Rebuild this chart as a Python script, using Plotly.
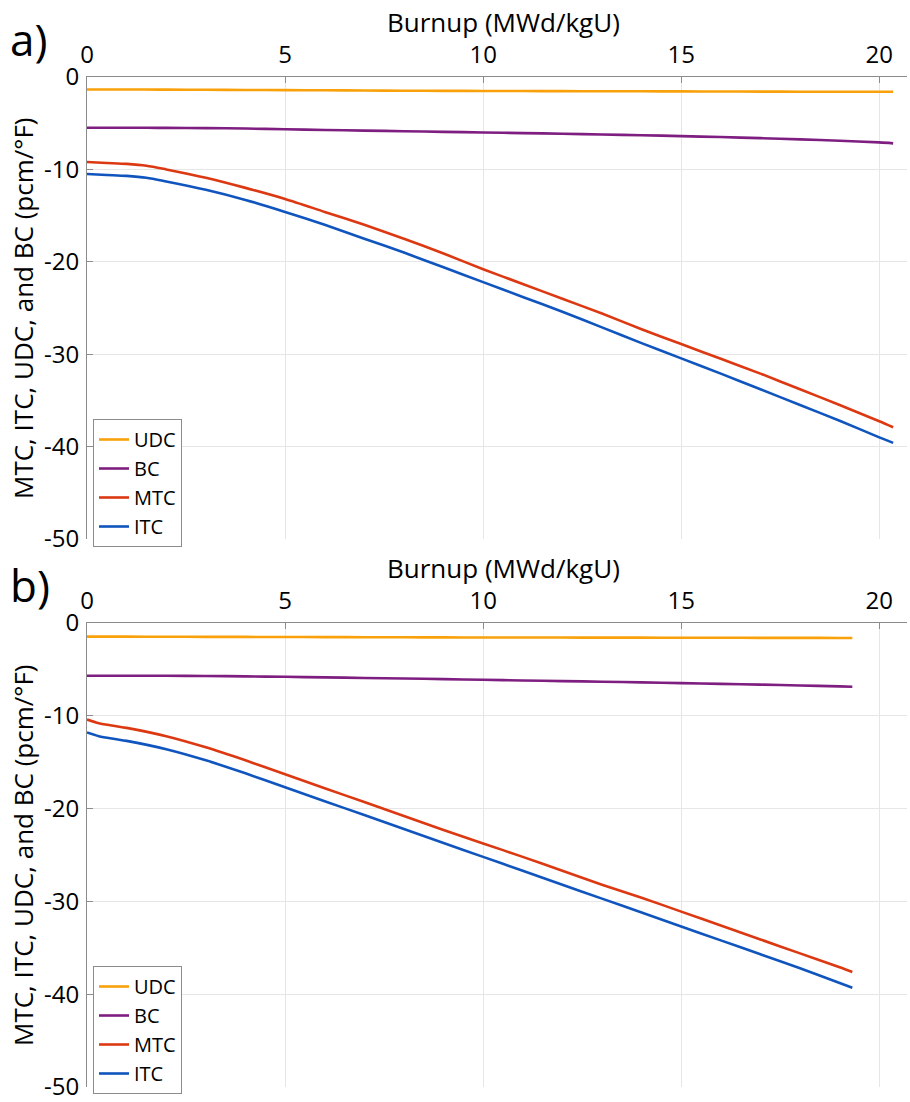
import plotly.graph_objects as go

# ---- data: panel a) ----
burnup_a = [0, 0.5, 1, 1.5, 2, 3, 4, 5, 6, 7, 8, 9, 10, 11, 12, 13, 14, 15, 16, 17, 18, 19, 20, 20.35]
udc_a = [-1.35, -1.35, -1.36, -1.36, -1.37, -1.38, -1.4, -1.42, -1.44, -1.46, -1.48, -1.5, -1.51, -1.52, -1.53, -1.54, -1.55, -1.56, -1.57, -1.58, -1.59, -1.6, -1.6, -1.6]
bc_a = [-5.5, -5.5, -5.5, -5.5, -5.51, -5.53, -5.58, -5.66, -5.73, -5.8, -5.87, -5.94, -6.0, -6.07, -6.14, -6.22, -6.3, -6.4, -6.5, -6.62, -6.75, -6.9, -7.08, -7.18]
mtc_a = [-9.2, -9.3, -9.4, -9.6, -10.0, -10.9, -12.0, -13.2, -14.6, -16.0, -17.5, -19.1, -20.8, -22.4, -24.0, -25.6, -27.3, -28.9, -30.5, -32.1, -33.8, -35.5, -37.25, -37.9]
itc_a = [-10.5, -10.6, -10.7, -10.9, -11.3, -12.2, -13.3, -14.6, -16.0, -17.5, -19.0, -20.6, -22.2, -23.8, -25.4, -27.1, -28.8, -30.45, -32.1, -33.8, -35.5, -37.2, -39.0, -39.6]

# ---- data: panel b) ----
burnup_b = [0, 0.3, 0.7, 1, 2, 3, 4, 5, 6, 7, 8, 9, 10, 11, 12, 13, 14, 15, 16, 17, 18, 19, 19.32]
udc_b = [-1.47, -1.47, -1.47, -1.47, -1.48, -1.49, -1.5, -1.51, -1.52, -1.53, -1.54, -1.55, -1.56, -1.57, -1.57, -1.58, -1.58, -1.59, -1.59, -1.6, -1.6, -1.61, -1.61]
bc_b = [-5.68, -5.68, -5.68, -5.68, -5.69, -5.71, -5.75, -5.8, -5.86, -5.92, -5.98, -6.05, -6.12, -6.19, -6.26, -6.33, -6.4, -6.48, -6.56, -6.64, -6.73, -6.83, -6.87]
mtc_b = [-10.4, -10.8, -11.1, -11.3, -12.2, -13.4, -14.8, -16.3, -17.8, -19.3, -20.8, -22.3, -23.75, -25.2, -26.7, -28.2, -29.6, -31.1, -32.6, -34.1, -35.6, -37.1, -37.6]
itc_b = [-11.8, -12.2, -12.5, -12.7, -13.6, -14.8, -16.2, -17.7, -19.2, -20.7, -22.2, -23.7, -25.2, -26.7, -28.2, -29.7, -31.2, -32.7, -34.2, -35.7, -37.2, -38.8, -39.3]

series_names = ["UDC", "BC", "MTC", "ITC"]
series_colors = ["#F9A10B", "#7E1E80", "#DC3812", "#1055BE"]

x_ticks = [0, 5, 10, 15, 20]
y_ticks = [0, -10, -20, -30, -40, -50]
y_tick_labels = ["0", "-10", "-20", "-30", "-40", "-50"]

W, H = 910, 1102
FONT = "Open Sans"


def px_x(p):
    return p / W


def px_y(p):
    return 1 - p / H


fig = go.Figure()

panels = [
    ("a", burnup_a, [udc_a, bc_a, mtc_a, itc_a], "x", "y", "legend", (77, 539)),
    ("b", burnup_b, [udc_b, bc_b, mtc_b, itc_b], "x2", "y2", "legend2", (623, 1087)),
]

for tag, xs, ys_list, xa, ya, lg, _ in panels:
    for name, color, ys in zip(series_names, series_colors, ys_list):
        fig.add_trace(go.Scatter(
            x=xs, y=ys, name=name, mode="lines",
            line=dict(color=color, width=2.6, shape="spline", smoothing=0.8),
            xaxis=xa, yaxis=ya, legend=lg,
        ))

axis_common_x = dict(
    range=[0, 20.7], side="top", tickvals=x_ticks,
    showgrid=True, gridcolor="#E6E6E6", gridwidth=1,
    showline=True, linecolor="#8C8C8C", linewidth=1,
    ticks="inside", ticklen=6, tickcolor="#8C8C8C",
    tickfont=dict(family=FONT, size=24, color="#000000"),
    zeroline=False, domain=[px_x(87), px_x(907)],
    ticklabelstandoff=3, automargin=False, ticklabeloverflow="allow",
)
axis_common_y = dict(
    range=[-50, 0], tickvals=y_ticks, ticktext=y_tick_labels,
    showgrid=True, gridcolor="#E6E6E6", gridwidth=1,
    showline=True, linecolor="#8C8C8C", linewidth=1,
    ticks="inside", ticklen=6, tickcolor="#8C8C8C",
    tickfont=dict(family=FONT, size=24, color="#000000"),
    zeroline=False, ticklabelstandoff=2, automargin=False,
    ticklabeloverflow="allow",
)

fig.update_layout(
    width=W, height=H,
    margin=dict(l=0, r=0, t=0, b=0, autoexpand=False),
    paper_bgcolor="white", plot_bgcolor="white",
    font=dict(family=FONT, color="#000000"),
    showlegend=True,
    xaxis=dict(axis_common_x, anchor="y"),
    yaxis=dict(axis_common_y, anchor="x", domain=[px_y(539), px_y(77)]),
    xaxis2=dict(axis_common_x, anchor="y2"),
    yaxis2=dict(axis_common_y, anchor="x2", domain=[px_y(1087), px_y(623)]),
)

legend_style = dict(
    xanchor="left", yanchor="top",
    bgcolor="white", bordercolor="#8C8C8C", borderwidth=1,
    font=dict(family=FONT, size=20, color="#000000"),
    tracegroupgap=0, itemwidth=30,
)
fig.update_layout(
    legend=dict(legend_style, x=px_x(93), y=px_y(419)),
    legend2=dict(legend_style, x=px_x(93), y=px_y(966)),
)

annotations = []
for tag, xs, ys_list, xa, ya, lg, (top, bottom) in panels:
    annotations.append(dict(
        text=f"{tag})", x=px_x(8), y=px_y(top - 38), xref="paper", yref="paper",
        xanchor="left", yanchor="middle", showarrow=False,
        font=dict(family=FONT, size=44, color="#000000"),
    ))
    annotations.append(dict(
        text="Burnup (MWd/kgU)", x=px_x(503), y=px_y(top - 55), xref="paper", yref="paper",
        xanchor="center", yanchor="middle", showarrow=False,
        font=dict(family=FONT, size=26, color="#000000"),
    ))
    annotations.append(dict(
        text="MTC, ITC, UDC, and BC (pcm/°F)", x=px_x(23), y=px_y((top + bottom) / 2),
        xref="paper", yref="paper", textangle=-90,
        xanchor="center", yanchor="middle", showarrow=False,
        font=dict(family=FONT, size=26, color="#000000"),
    ))
fig.update_layout(annotations=annotations)

fig.write_html("out.html")
